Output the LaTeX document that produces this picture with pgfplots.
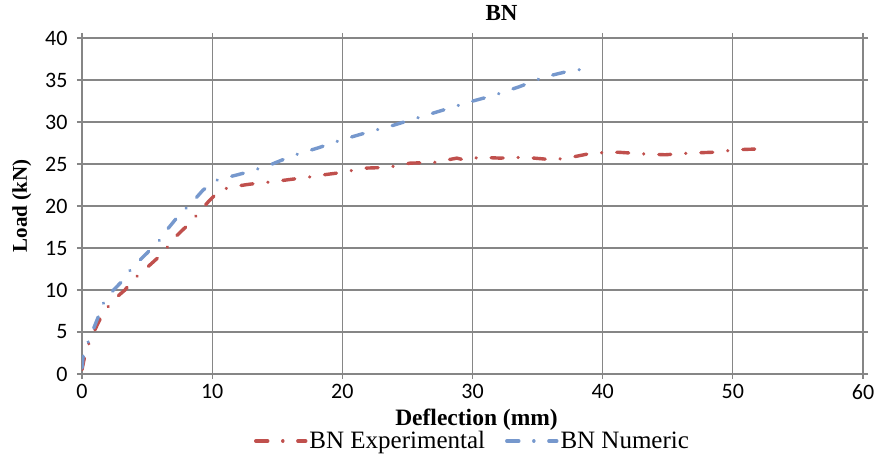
\documentclass[border=0pt]{standalone}
\usepackage{pgfplots}
\pgfplotsset{compat=1.18}
\usepackage{fontspec}
\setmainfont{Liberation Serif}
\newfontfamily\calibri{Carlito}

\definecolor{gridgray}{RGB}{134,134,134}
\definecolor{expred}{RGB}{192,80,77}
\definecolor{numblue}{RGB}{118,152,205}

\pgfplotsset{
  dashdotline/.style={line width=3.4pt, line cap=round,
    dash pattern=on 12pt off 15pt on 0.1pt off 15pt},
}

\begin{document}
\begin{tikzpicture}
\useasboundingbox (-82pt,-83pt) rectangle (795pt,374pt);
\begin{axis}[
    scale only axis, width=781pt, height=336pt,
    xmin=0, xmax=60, ymin=0, ymax=40,
    xtick distance=10, ytick distance=5,
    grid=major,
    major grid style={gridgray, line width=1.2pt},
    axis line style={gridgray, line width=1.2pt},
    tick style={gridgray, line width=1.2pt},
    tick align=outside, major tick length=5pt,
    /pgf/number format/assume math mode=true,
    ticklabel style={font=\calibri\fontsize{22}{26}\selectfont},
    xticklabel style={yshift=-2pt},
    yticklabel style={xshift=-6pt},
    title={\textbf{BN}},
    title style={font=\fontsize{23}{27}\selectfont, at={(axis description cs:0.5,1)}, anchor=center, yshift=19pt, xshift=29pt},
    xlabel={\textbf{Deflection (mm)}},
    xlabel style={font=\fontsize{23.5}{27}\selectfont, at={(axis description cs:0.5,0)}, anchor=center, yshift=-46pt, xshift=4pt},
    ylabel={\textbf{Load (kN)}},
    ylabel style={font=\fontsize{21}{25}\selectfont, at={(axis description cs:-0.077,0.5)}, anchor=center},
    legend style={at={(axis description cs:0.5,0)}, anchor=center, yshift=-67pt,
      draw=none, fill=none, legend columns=2,
      font=\fontsize{25}{29}\selectfont, inner sep=0pt,
      nodes={inner sep=2pt},
      /tikz/every even column/.append style={column sep=18pt}},
    legend image code/.code={\draw[#1] (0pt,0pt) -- (50pt,0pt);},
]
\addplot[expred, dashdotline] coordinates {
  (0,0.5) (0.23,2.3) (0.6,4.0) (1.25,6.1) (1.6,7.2) (2.4,8.8) (3.3,10.0)
  (3.9,11.2) (4.8,12.4) (5.8,13.8) (6.4,14.8) (7.3,16.5) (8.1,17.7)
  (8.8,18.9) (9.7,20.5) (10.6,21.9) (11.6,22.3) (12.9,22.6) (14.7,22.9)
  (16.2,23.2) (17.7,23.5) (18.5,23.7) (20.0,24.0) (21.6,24.5) (23.5,24.6)
  (25.2,25.1) (27.1,25.2) (28.8,25.7) (29.3,25.5) (30.6,25.8) (32.1,25.7)
  (34.0,25.8) (36.2,25.5) (37.6,25.8) (39.2,26.3) (41.2,26.4) (43.1,26.2)
  (44.8,26.1) (46.7,26.3) (48.5,26.4) (50.3,26.7) (52.1,26.8)
};
\addplot[numblue, dashdotline] coordinates {
  (0,0.7) (0.1,2.3) (0.6,4.3) (1.25,6.8) (1.4,7.9) (2.3,9.8) (3.3,11.4)
  (3.8,12.6) (5.0,14.4) (6.0,16.0) (6.6,17.3) (7.5,19.0) (8.5,20.5)
  (9.3,21.9) (10.4,23.1) (12.4,23.9) (14.3,24.8) (16.2,26.0) (18.1,26.9)
  (20.0,27.9) (22.0,28.8) (23.9,29.6) (26.0,30.6) (27.7,31.4) (29.8,32.4)
  (31.7,33.2) (33.6,34.2) (35.4,35.3) (37.5,36.1) (39.2,36.4)
};
\legend{BN Experimental, BN Numeric}
\end{axis}
\end{tikzpicture}
\end{document}
